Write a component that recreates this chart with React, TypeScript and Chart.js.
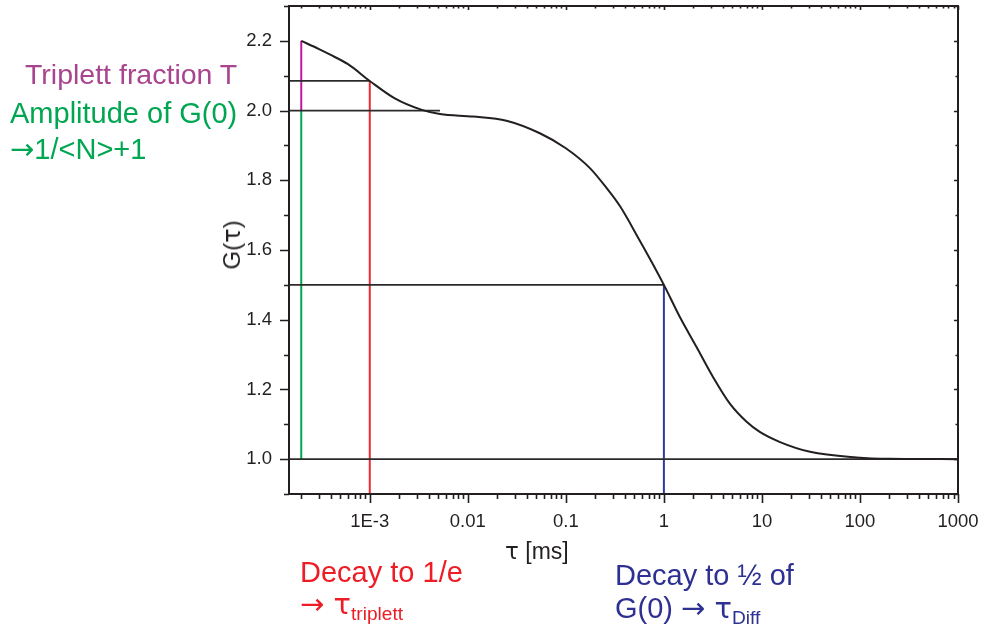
import React, { useEffect, useRef } from 'react';
import { Chart, registerables } from 'chart.js';

Chart.register(...registerables);

// ---- data ----
const tau = [2e-4, 3e-4, 3.9e-4, 6e-4, 1e-3, 1.8e-3, 3.4e-3, 5.2e-3, 0.0113, 0.0248, 0.0543, 0.1, 0.176, 0.26, 0.356, 0.57, 0.72, 1, 1.46, 2.16, 3.18, 4.71, 6.98, 9.5, 15.3, 31, 92, 200, 1000];
const gTau = [2.2, 2.177, 2.161, 2.133, 2.085, 2.035, 2.002, 1.99, 1.983, 1.971, 1.935, 1.892, 1.835, 1.778, 1.726, 1.626, 1.575, 1.5, 1.407, 1.321, 1.235, 1.159, 1.107, 1.078, 1.049, 1.021, 1.005, 1.001, 1.0];

const xMin = 1.5e-4;
const xMax = 1000;
const yMin = 0.9;
const yMax = 2.3;
const xMajorTicks = [1e-3, 1e-2, 0.1, 1, 10, 100, 1000];
const xTickLabels = ['1E-3', '0.01', '0.1', '1', '10', '100', '1000'];
const yMajorTicks = [1.0, 1.2, 1.4, 1.6, 1.8, 2.0, 2.2];
const yMinorTicks = [0.9, 1.1, 1.3, 1.5, 1.7, 1.9, 2.1, 2.3];

// marker values
const tauStart = 2e-4;
const gStart = 2.2;
const g0 = 2.0;
const gInf = 1.0;
const tauTriplet = 1e-3;
const gTriplet = 2.085;
const tauPlateau = 5.2e-3;
const tauDiff = 1;
const gDiff = 1.5;

const INK = '#231f20';
const REF = '#2b2b2b';

const framePlugin = {
  id: 'frame',
  afterDatasetsDraw(chart: any) {
    const { ctx, chartArea, scales } = chart;
    const { left, right, top, bottom } = chartArea;
    const x = scales.x;
    const y = scales.y;
    ctx.save();
    ctx.strokeStyle = INK;
    ctx.lineWidth = 2;
    ctx.strokeRect(left, top, right - left, bottom - top);
    ctx.lineWidth = 1.6;
    ctx.beginPath();
    for (let e = -4; e <= 3; e++) {
      for (let m = 1; m <= 9; m++) {
        const v = m * Math.pow(10, e);
        if (v < xMin * 0.999 || v > xMax * 1.001) continue;
        const px = Math.round(x.getPixelForValue(v)) + 0.5;
        const len = m === 1 ? 9 : 5;
        ctx.moveTo(px, bottom);
        ctx.lineTo(px, bottom + len);
        ctx.moveTo(px, top);
        ctx.lineTo(px, top + (m === 1 ? 4 : 2.5));
      }
    }
    yMajorTicks.forEach((v) => {
      const py = Math.round(y.getPixelForValue(v)) + 0.5;
      ctx.moveTo(left, py);
      ctx.lineTo(left - 9, py);
      ctx.moveTo(right, py);
      ctx.lineTo(right - 4, py);
    });
    yMinorTicks.forEach((v) => {
      const py = Math.round(y.getPixelForValue(v)) + 0.5;
      ctx.moveTo(left, py);
      ctx.lineTo(left - 5, py);
      ctx.moveTo(right, py);
      ctx.lineTo(right - 2.5, py);
    });
    ctx.stroke();
    ctx.restore();
  },
};

function seg(x1: number, y1: number, x2: number, y2: number) {
  return [{ x: x1, y: y1 }, { x: x2, y: y2 }];
}

function fixFit(s: any, size: number, horizontal: boolean) {
  if (horizontal) s.height = size;
  else s.width = size;
  s.paddingTop = 0;
  s.paddingBottom = 0;
  s.paddingLeft = 0;
  s.paddingRight = 0;
}

export default function App() {
  const ref = useRef<HTMLCanvasElement>(null);

  useEffect(() => {
    if (!ref.current) return;
    const lineDs = (data: any, color: string, width: number) => ({
      data,
      borderColor: color,
      borderWidth: width,
      pointRadius: 0,
      fill: false,
      tension: 0,
    });
    const chart = new Chart(ref.current, {
      type: 'line',
      data: {
        datasets: [
          {
            data: tau.map((t, i) => ({ x: t, y: gTau[i] })),
            borderColor: INK,
            borderWidth: 2,
            pointRadius: 0,
            fill: false,
            cubicInterpolationMode: 'monotone',
          } as any,
          lineDs(seg(xMin, gTriplet, tauTriplet, gTriplet), REF, 1.8),
          lineDs(seg(xMin, g0, tauPlateau, g0), REF, 1.8),
          lineDs(seg(xMin, gDiff, tauDiff, gDiff), REF, 1.8),
          lineDs(seg(xMin, gInf, xMax, gInf), REF, 1.8),
          lineDs(seg(tauStart, g0, tauStart, gStart), '#c0189c', 2),
          lineDs(seg(tauStart, gInf, tauStart, g0), '#00a651', 2),
          lineDs(seg(tauTriplet, yMin, tauTriplet, gTriplet), '#ee2a35', 2),
          lineDs(seg(tauDiff, yMin, tauDiff, gDiff), '#2e3a9e', 2),
        ],
      },
      options: {
        animation: false,
        responsive: false,
        devicePixelRatio: 1,
        layout: { padding: { left: 229, right: 23, top: 6, bottom: 94 }, autoPadding: false },
        plugins: { legend: { display: false }, tooltip: { enabled: false }, title: { display: false } },
        scales: {
          x: {
            type: 'logarithmic',
            min: xMin,
            max: xMax,
            grid: { display: false, drawTicks: false },
            border: { display: false },
            afterBuildTicks: (s: any) => {
              s.ticks = xMajorTicks.map((v) => ({ value: v }));
            },
            afterFit: (s: any) => fixFit(s, 40, true),
            ticks: {
              autoSkip: false,
              maxRotation: 0,
              padding: 17,
              color: INK,
              font: { family: 'Liberation Sans, Arial, sans-serif', size: 18.5 },
              callback: (_v: any, i: number) => xTickLabels[i],
            },
          },
          y: {
            type: 'linear',
            min: yMin,
            max: yMax,
            grid: { display: false, drawTicks: false },
            border: { display: false },
            afterBuildTicks: (s: any) => {
              s.ticks = yMajorTicks.map((v) => ({ value: v }));
            },
            afterFit: (s: any) => fixFit(s, 60, false),
            ticks: {
              autoSkip: false,
              padding: 17,
              color: INK,
              font: { family: 'Liberation Sans, Arial, sans-serif', size: 18.5 },
              callback: (_v: any, i: number) => yMajorTicks[i].toFixed(1),
            },
          },
        },
      },
      plugins: [framePlugin],
    });
    return () => chart.destroy();
  }, []);

  const font = 'Liberation Sans, Arial, Helvetica, sans-serif';
  const txt = (left: number, top: number, size: number, color: string): React.CSSProperties => ({
    position: 'absolute',
    left,
    top,
    fontSize: size,
    lineHeight: 1,
    color,
    fontFamily: font,
    whiteSpace: 'nowrap',
  });
  const sub: React.CSSProperties = { fontSize: '0.66em', position: 'relative', top: '0.3em', fontFamily: font };
  const sym: React.CSSProperties = { fontFamily: 'DejaVu Sans, sans-serif' };

  return (
    <div style={{ position: 'relative', width: 981, height: 628, background: '#fff', overflow: 'hidden' }}>
      <style>{`body{margin:0}`}</style>
      <canvas ref={ref} width={981} height={628} style={{ display: 'block', width: 981, height: 628 }} />
      <div style={txt(25, 60, 28.5, '#a9448f')}>Triplett fraction T</div>
      <div style={txt(10, 99, 29, '#00a651')}>Amplitude of G(0)</div>
      <div style={txt(10, 135, 29, '#00a651')}>
        <span style={sym}>→</span>1/&lt;N&gt;+1
      </div>
      <div style={txt(505, 540, 23, INK)}>
        <span style={sym}>τ</span> [ms]
      </div>
      <div
        style={{
          ...txt(232, 245, 24, INK),
          transform: 'translate(-50%, -50%) rotate(-90deg)',
        }}
      >
        G(<span style={sym}>τ</span>)
      </div>
      <div style={txt(300, 558, 29, '#ee1c25')}>Decay to 1/e</div>
      <div style={txt(300, 590, 29, '#ee1c25')}>
        <span style={sym}>→ τ</span>
        <span style={sub}>triplett</span>
      </div>
      <div style={txt(615, 561, 29, '#2e3192')}>Decay to ½ of</div>
      <div style={txt(615, 594, 29, '#2e3192')}>
        G(0) <span style={sym}>→ τ</span>
        <span style={sub}>Diff</span>
      </div>
    </div>
  );
}
